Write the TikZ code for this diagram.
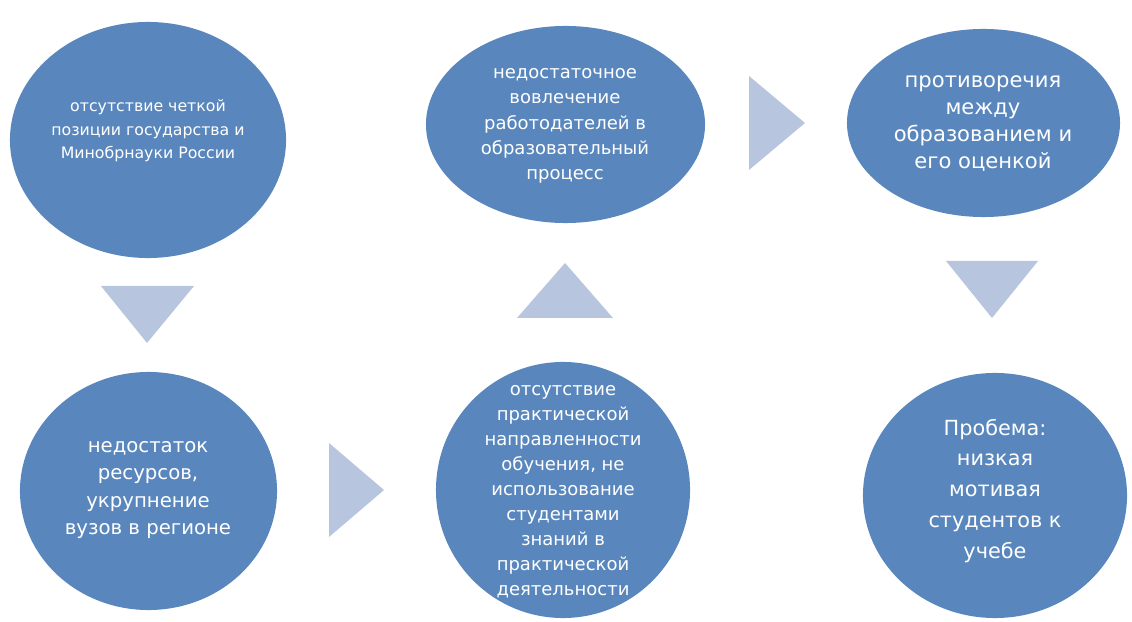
\documentclass[tikz,border=0pt]{standalone}
\usepackage{fontspec}
\setmainfont{DejaVu Sans}
\usepackage{tikz}
\usetikzlibrary{shapes.geometric}
\definecolor{blobblue}{RGB}{89,135,189}
\definecolor{triblue}{RGB}{184,197,222}

\tikzset{
  blob/.style={ellipse,fill=blobblue,inner sep=0pt,outer sep=0pt},
  tri/.style={fill=triblue},
  txt/.style={text=white,align=center,inner sep=0pt}
}

\begin{document}
\begin{tikzpicture}[x=0.025cm,y=-0.025cm]
   \useasboundingbox (0,0) rectangle (1132,622);
   % ellipses
   \node[blob,minimum width=6.9cm,minimum height=5.9cm] (e1) at (148,140) {};
   \node[blob,minimum width=6.975cm,minimum height=4.925cm] (e2) at (565.5,124.5) {};
   \node[blob,minimum width=6.825cm,minimum height=4.7cm] (e3) at (983.5,123) {};
   \node[blob,minimum width=6.425cm,minimum height=5.95cm] (e4) at (148.5,491) {};
   \node[blob,minimum width=6.35cm,minimum height=6.4cm] (e5) at (563,490) {};
   \node[blob,minimum width=6.6cm,minimum height=6.125cm] (e6) at (995,495.5) {};
   % texts
   \node[txt,font=\fontsize{11.2}{16.7}\selectfont] (t1) at (148,131)
      {отсутствие четкой\\позиции государства и\\Минобрнауки России};
   \node[txt,font=\fontsize{12.8}{18}\selectfont] (t2) at (565,126)
      {недостаточное\\вовлечение\\работодателей в\\образовательный\\процесс};
   \node[txt,font=\fontsize{15}{19.2}\selectfont] (t3) at (983,124)
      {противоречия\\между\\образованием и\\его оценкой};
   \node[txt,font=\fontsize{14}{19.5}\selectfont] (t4) at (148,490)
      {недостаток\\ресурсов,\\укрупнение\\вузов в регионе};
   \node[txt,font=\fontsize{12.8}{17.8}\selectfont] (t5) at (563,492)
      {отсутствие\\практической\\направленности\\обучения, не\\использование\\студентами\\знаний в\\практической\\деятельности};
   \node[txt,font=\fontsize{14.8}{22}\selectfont] (t6) at (995,491)
      {Пробема:\\низкая\\мотивая\\студентов к\\учебе};
   % arrows between
   \fill[tri] (101,286) -- (194,286) -- (147,343) -- cycle;
   \fill[tri] (329,443) -- (384,490) -- (329,537) -- cycle;
   \fill[tri] (517,318) -- (565,263) -- (613,318) -- cycle;
   \fill[tri] (749,76) -- (805,123) -- (749,170) -- cycle;
   \fill[tri] (946,261) -- (1038,261) -- (992,318) -- cycle;
\end{tikzpicture}
\end{document}
